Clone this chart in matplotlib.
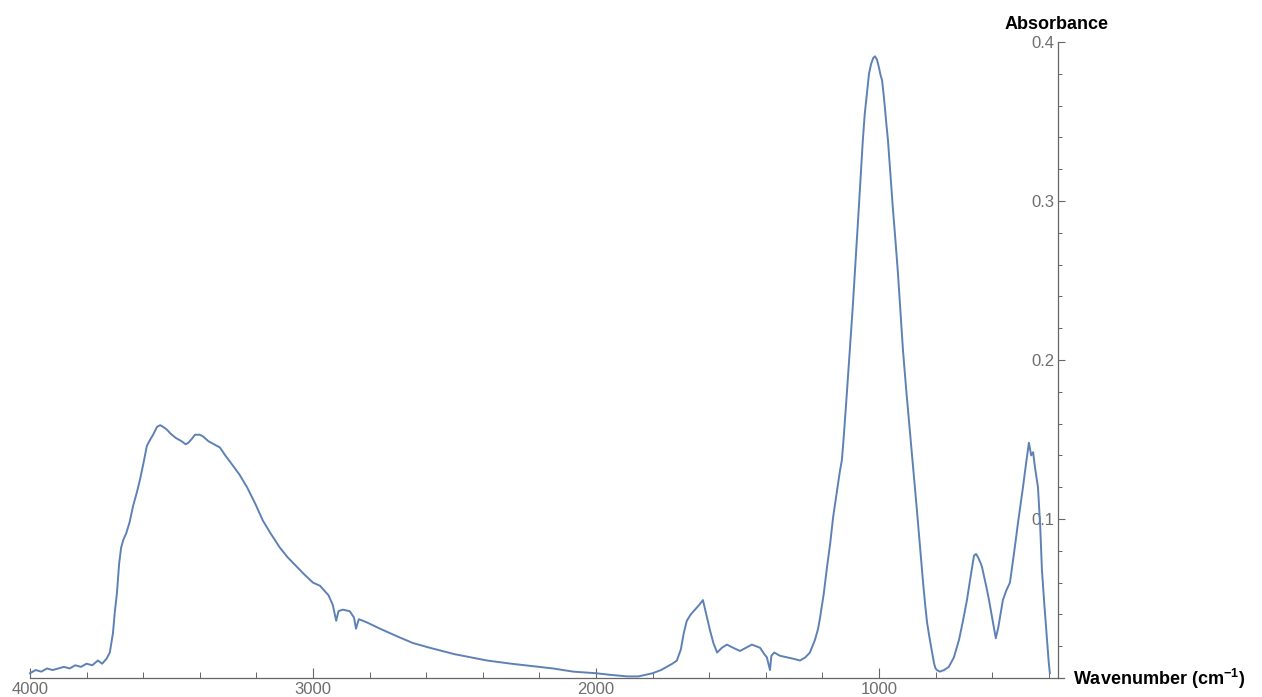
import matplotlib
matplotlib.use("Agg")
import matplotlib.pyplot as plt
from matplotlib.ticker import MultipleLocator

plt.rcParams['font.family'] = ['Liberation Sans', 'DejaVu Sans']
plt.rcParams['mathtext.fontset'] = 'custom'
plt.rcParams['mathtext.rm'] = 'Liberation Sans'
plt.rcParams['mathtext.bf'] = 'Liberation Sans:bold'

# ---- data ----
wavenumber = [
    4000, 3980, 3960, 3940, 3920, 3900, 3880, 3860, 3840, 3820, 3800, 3780,
    3760, 3745, 3730, 3718, 3707, 3700, 3693, 3685, 3678, 3670, 3660, 3648,
    3636, 3622, 3611, 3598, 3587, 3575, 3565, 3551, 3540, 3530, 3515, 3505,
    3485, 3465, 3450, 3440, 3430, 3417, 3400, 3389, 3370, 3350, 3329, 3310,
    3293, 3260, 3233, 3205, 3177, 3150, 3117, 3090, 3057, 3030, 3000, 2975,
    2960, 2945, 2930, 2918, 2910, 2895, 2870, 2855, 2848, 2838, 2810, 2763,
    2700, 2647, 2587, 2500, 2385, 2300, 2200, 2152, 2080, 2000, 1950, 1890,
    1850, 1800, 1770, 1750, 1730, 1714, 1700, 1690, 1679, 1665, 1650, 1635,
    1622, 1610, 1597, 1585, 1572, 1555, 1537, 1515, 1491, 1470, 1449, 1435,
    1420, 1405, 1396, 1385, 1380, 1370, 1350, 1325, 1300, 1279, 1260, 1244,
    1226, 1215, 1208, 1195, 1184, 1172, 1162, 1148, 1138, 1131, 1125, 1115,
    1103, 1093, 1085, 1078, 1071, 1064, 1057, 1050, 1042, 1035, 1028, 1020,
    1014, 1007, 1000, 994, 989, 984, 979, 974, 968, 960, 951, 942,
    933, 924, 915, 903, 890, 878, 866, 855, 844, 836, 830, 820,
    810, 805, 800, 795, 785, 770, 753, 735, 717, 703, 689, 675,
    664, 657, 650, 640, 636, 620, 611, 600, 587, 578, 562, 550,
    537, 520, 509, 491, 480, 470, 462, 455, 449, 438, 430, 424,
    415, 407, 400, 396,
]
absorbance = [
    0.003, 0.005, 0.004, 0.006, 0.005, 0.006, 0.007, 0.006, 0.008, 0.007, 0.009, 0.008,
    0.011, 0.009, 0.012, 0.016, 0.028, 0.042, 0.053, 0.072, 0.082, 0.087, 0.091, 0.098,
    0.108, 0.117, 0.125, 0.136, 0.146, 0.150, 0.153, 0.158, 0.159, 0.158, 0.156, 0.154,
    0.151, 0.149, 0.147, 0.148, 0.150, 0.153, 0.153, 0.152, 0.149, 0.147, 0.145, 0.140,
    0.136, 0.128, 0.120, 0.110, 0.099, 0.091, 0.082, 0.076, 0.070, 0.065, 0.060, 0.058,
    0.055, 0.052, 0.046, 0.036, 0.042, 0.043, 0.042, 0.038, 0.031, 0.037, 0.035, 0.031,
    0.026, 0.022, 0.019, 0.015, 0.011, 0.009, 0.007, 0.006, 0.004, 0.003, 0.002, 0.001,
    0.001, 0.003, 0.005, 0.007, 0.009, 0.011, 0.018, 0.028, 0.036, 0.040, 0.043, 0.046,
    0.049, 0.040, 0.030, 0.022, 0.016, 0.019, 0.021, 0.019, 0.017, 0.019, 0.021, 0.020,
    0.019, 0.015, 0.013, 0.005, 0.014, 0.016, 0.014, 0.013, 0.012, 0.011, 0.013, 0.016,
    0.024, 0.031, 0.038, 0.053, 0.069, 0.085, 0.101, 0.118, 0.130, 0.137, 0.150, 0.175,
    0.206, 0.232, 0.255, 0.276, 0.296, 0.317, 0.338, 0.355, 0.368, 0.380, 0.386, 0.390,
    0.391, 0.389, 0.384, 0.379, 0.376, 0.368, 0.359, 0.349, 0.338, 0.318, 0.296, 0.276,
    0.255, 0.231, 0.206, 0.180, 0.154, 0.130, 0.106, 0.083, 0.060, 0.045, 0.035, 0.024,
    0.014, 0.009, 0.006, 0.005, 0.004, 0.005, 0.007, 0.013, 0.024, 0.036, 0.049, 0.065,
    0.077, 0.078, 0.076, 0.072, 0.070, 0.057, 0.049, 0.038, 0.025, 0.032, 0.049, 0.055,
    0.060, 0.082, 0.097, 0.120, 0.135, 0.148, 0.140, 0.142, 0.133, 0.120, 0.095, 0.068,
    0.045, 0.026, 0.010, 0.003,
]
x_major_ticks = [4000, 3000, 2000, 1000]
y_major_ticks = [0.1, 0.2, 0.3, 0.4]
y_tick_labels = ['0.1', '0.2', '0.3', '0.4']
y_axis_at = 368

LINE = '#5E81B5'
AXIS = '#666666'
TICKTXT = '#6e6e6e'

fig = plt.figure(figsize=(12.62, 6.97), dpi=100)
ax = fig.add_axes([30 / 1262, 19 / 697, 1034 / 1262, 636 / 697])

ax.plot(wavenumber, absorbance, color=LINE, lw=1.4, clip_on=False,
        solid_joinstyle='round')

ax.set_xlim(4000, 346)
ax.set_ylim(0, 0.4)

for s in ['top', 'left']:
    ax.spines[s].set_visible(False)
ax.spines['bottom'].set_color(AXIS)
ax.spines['right'].set_color(AXIS)
ax.spines['bottom'].set_linewidth(0.9)
ax.spines['right'].set_linewidth(0.9)
ax.spines['right'].set_position(('data', y_axis_at))

ax.set_xticks(x_major_ticks)
ax.xaxis.set_minor_locator(MultipleLocator(200))
ax.set_yticks(y_major_ticks)
ax.set_yticklabels(y_tick_labels)
ax.yaxis.set_minor_locator(MultipleLocator(0.02))

ax.tick_params(axis='x', which='major', direction='in', length=7, width=0.8,
               color=AXIS, labelcolor=TICKTXT, labelsize=12, pad=3)
ax.tick_params(axis='x', which='minor', direction='in', length=4, width=0.7, color=AXIS)
ax.yaxis.tick_right()
ax.tick_params(axis='y', which='major', direction='out', length=5, width=0.8,
               color=AXIS, labelcolor=TICKTXT, labelsize=12, pad=-7.5)
ax.tick_params(axis='y', which='minor', direction='out', length=3, width=0.7, color=AXIS)
for lab in ax.yaxis.get_majorticklabels():
    lab.set_horizontalalignment('right')

fig.text(1057 / 1262, 1 - 29 / 697, 'Absorbance', ha='center', va='baseline',
         fontsize=13, fontweight='bold', color='black')
fig.text(1073 / 1262, 1 - 679 / 697, r'Wavenumber (cm$^{\mathbf{-1}}$)', ha='left',
         va='center', fontsize=13, fontweight='bold', color='black')

fig.savefig('out.png', dpi=100)
